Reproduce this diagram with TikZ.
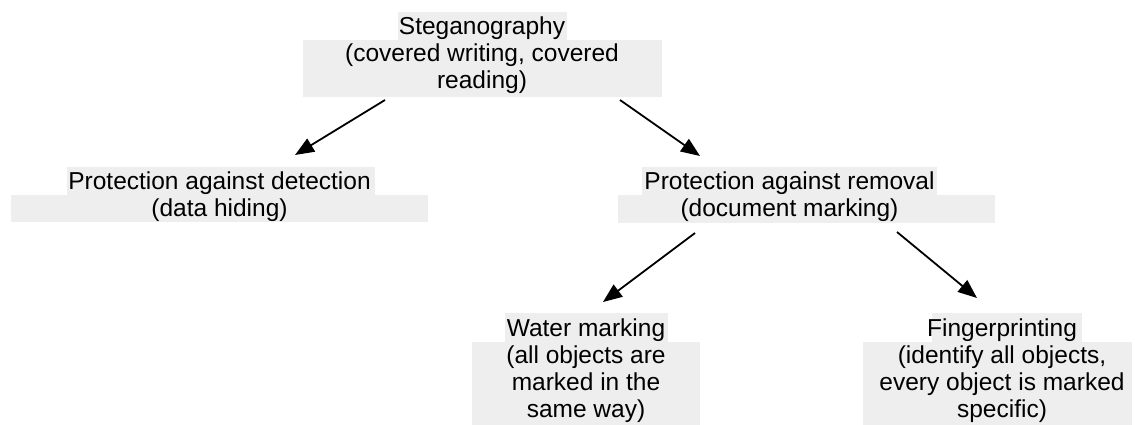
\documentclass[tikz,border=0pt]{standalone}
\usepackage{fontspec}
\setmainfont{Liberation Sans}
\usetikzlibrary{arrows.meta}
\definecolor{shade}{HTML}{EEEEEE}
\tikzset{
  lbl/.style={anchor=north, align=center, inner sep=0pt,
              font=\fontsize{24.5}{27}\selectfont, text=black},
  band/.style={fill=shade, draw=none},
  arr/.style={line width=1.8pt, -{Triangle[length=19pt,width=15pt]}}
}
\begin{document}
\begin{tikzpicture}[x=1pt,y=-1pt]
\useasboundingbox (0,0) rectangle (1135,425);
% shaded bands
\fill[band] (398,12) rectangle (567,40);
\fill[band] (303,40) rectangle (662,97);
\fill[band] (67,167) rectangle (375,195);
\fill[band] (11,195) rectangle (428,222);
\fill[band] (642,167) rectangle (937,195);
\fill[band] (618,195) rectangle (995,223);
\fill[band] (505,313) rectangle (668,342);
\fill[band] (472,342) rectangle (700,425);
\fill[band] (932,313) rectangle (1082,342);
\fill[band] (863,342) rectangle (1132,425);
% texts
\node[lbl] (steg) at (482,15.1) {\strut Steganography\\(covered writing, covered\\reading)};
\node[lbl] (det) at (219.5,170.1) {\strut Protection against detection\\(data hiding)};
\node[lbl] (rem) at (789.5,170.1) {\strut Protection against removal\\(document marking)};
\node[lbl] (wat) at (586,317.1) {\strut Water marking\\(all objects are\\marked in the\\same way)};
\node[lbl] (fin) at (1002,317.1) {\strut Fingerprinting\\(identify all objects,\\every object is marked\\specific)};
% connector ends
\coordinate (s1) at (385,100); \coordinate (e1) at (295,155);
\coordinate (s2) at (620,100); \coordinate (e2) at (700,156);
\coordinate (s3) at (695,233); \coordinate (e3) at (603,302);
\coordinate (s4) at (897,232); \coordinate (e4) at (977,298);
\draw[arr] (s1) -- (e1);
\draw[arr] (s2) -- (e2);
\draw[arr] (s3) -- (e3);
\draw[arr] (s4) -- (e4);
\end{tikzpicture}
\end{document}
